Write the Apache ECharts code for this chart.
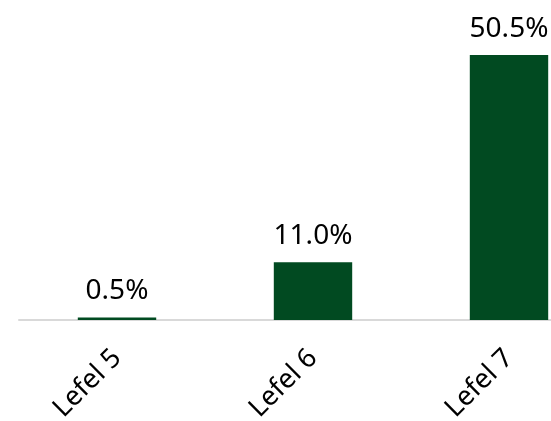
<!DOCTYPE html>
<html>
<head>
<meta charset="utf-8">
<script src="https://cdn.jsdelivr.net/npm/echarts@6/dist/echarts.min.js"></script>
<style>
  html, body { margin: 0; padding: 0; background: #fff; }
  #main { width: 551px; height: 421px; }
</style>
</head>
<body>
<div id="main"></div>
<script>
  const categories = ['Lefel 5', 'Lefel 6', 'Lefel 7'];
  const shares = [0.5, 11.0, 50.5];

  const chart = echarts.init(document.getElementById('main'));
  const fontFamily = '"Noto Sans", "Open Sans", sans-serif';

  chart.setOption({
    animation: false,
    grid: { left: 19, width: 588, top: 5, bottom: 101, outerBoundsMode: 'none' },
    xAxis: {
      type: 'category',
      data: categories,
      axisLine: { lineStyle: { color: '#d9d9d9', width: 2 } },
      axisTick: { show: false },
      axisLabel: {
        rotate: 45,
        margin: 34,
        color: '#000',
        fontSize: 27,
        fontFamily: fontFamily
      }
    },
    yAxis: {
      type: 'value',
      min: 0,
      max: 60,
      show: false,
      splitLine: { show: false }
    },
    series: [{
      type: 'bar',
      data: shares,
      barWidth: '40%',
      itemStyle: { color: '#014a21' },
      label: {
        show: true,
        position: 'top',
        distance: 12,
        color: '#000',
        fontSize: 28,
        fontFamily: fontFamily,
        formatter: p => p.value.toFixed(1) + '%'
      }
    }]
  });
</script>
</body>
</html>
